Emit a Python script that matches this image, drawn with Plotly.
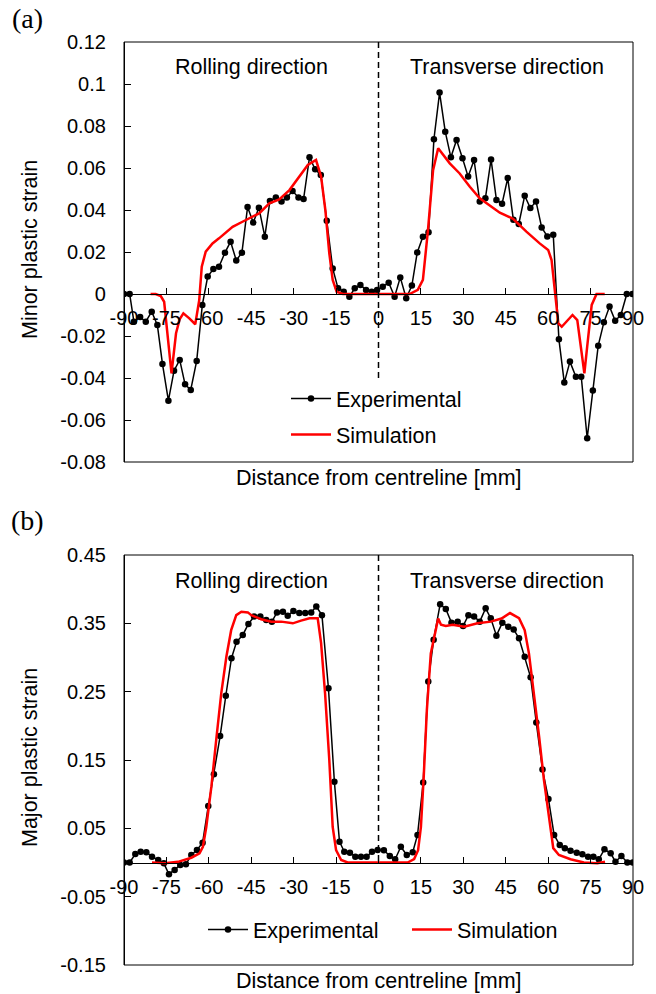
import plotly.graph_objects as go

# ---------------- data ----------------
minor_exp_x = [-90, -88, -86.5, -84.3, -82.3, -80.2, -78.2, -76.4, -74.3, -72.3,
               -70.3, -68.4, -66.4, -64.3, -62.3, -60.4, -58.4, -56.4, -54.3, -52.3,
               -50.3, -48.3, -46.3, -44.3, -42.3, -40.2, -38.4, -36.3, -34.3, -32.4,
               -30.4, -28.3, -26.5, -24.4, -22.4, -20.4, -18.3, -16.2, -14.3, -12.3,
               -10.3, -8.4, -6.4, -4.4, -2.4, -0.5, 1.5, 3.6, 5.7, 7.7,
               9.8, 11.8, 13.7, 15.7, 17.7, 19.6, 21.6, 23.6, 25.6, 27.6,
               29.7, 31.7, 33.8, 35.8, 37.8, 39.8, 41.7, 43.7, 45.7, 47.7,
               49.6, 51.7, 53.7, 55.7, 57.7, 59.7, 61.8, 63.8, 65.7, 67.7,
               69.8, 71.7, 73.8, 75.8, 77.7, 79.7, 81.7, 83.7, 85.7, 87.8,
               89.8]
minor_exp_y = [0, 0, -0.0132, -0.011, -0.0132, -0.0084, -0.0148, -0.0333, -0.0508, -0.0365,
               -0.0314, -0.043, -0.0457, -0.0319, -0.0052, 0.0083, 0.0119, 0.013, 0.0197, 0.0249,
               0.016, 0.0197, 0.0414, 0.034, 0.0411, 0.0273, 0.0443, 0.046, 0.044, 0.046,
               0.049, 0.046, 0.0452, 0.0651, 0.0594, 0.0567, 0.0349, 0.0122, 0.0027, 0.0011,
               -0.0013, 0.0027, 0.0043, 0.0019, 0.0011, 0.0019, 0.0035, 0.0054, -0.0013, 0.0079,
               -0.002, 0.004, 0.0198, 0.0273, 0.0294, 0.0737, 0.0959, 0.0773, 0.0651, 0.0733,
               0.0646, 0.0559, 0.0638, 0.044, 0.0456, 0.0641, 0.0448, 0.043, 0.0552, 0.0353,
               0.0333, 0.0468, 0.0409, 0.0441, 0.0317, 0.0274, 0.0282, -0.0216, -0.0422, -0.0322,
               -0.0394, -0.0394, -0.0687, -0.046, -0.0246, -0.0135, -0.006, -0.0127, -0.01, 0,
               0]

minor_sim_x = [-80.6, -78.8, -77.0, -75.8, -73.2, -71.6, -70.3, -69, -66.9, -64.8,
               -63.4, -62.5, -61.1, -58.7, -56.4, -54, -51.6, -48.1, -45.7, -42.2,
               -38.6, -35.1, -31.5, -28, -25, -22.1, -20.3, -18.8, -17.4, -16.2,
               -14.8, -12.6, 0, 11, 13.9, 15.7, 17.5, 19.3, 21.1, 22.9,
               25.2, 28.7, 32.3, 35.8, 39.3, 42.9, 47.6, 52.3, 57, 60,
               61.2, 62.4, 63.6, 64.8, 66.5, 68.6, 70.3, 71.8, 72.8, 73.8,
               75.4, 77.1, 80]
minor_sim_y = [0, 0, -0.001, -0.0037, -0.0378, -0.0187, -0.012, -0.0092, -0.0116, -0.0144,
               -0.0029, 0.013, 0.0202, 0.0241, 0.0265, 0.0294, 0.032, 0.0344, 0.036, 0.0384,
               0.0432, 0.045, 0.0495, 0.0559, 0.0614, 0.0638, 0.0559, 0.04, 0.0194, 0.0067,
               0.0011, 0, 0, 0, 0.002, 0.0067, 0.0305, 0.059, 0.0694, 0.0662,
               0.0622, 0.0574, 0.0511, 0.0456, 0.0424, 0.0387, 0.0358, 0.0297, 0.0241, 0.021,
               0.0162, 0.0019, -0.014, -0.0156, -0.0132, -0.01, -0.0124, -0.0267, -0.0378, -0.0251,
               -0.0052, 0, 0]

major_exp_x = [-90, -88, -86, -84.1, -82.1, -80.1, -77.9, -75.9, -74.1, -72.1,
               -70.1, -68.1, -66.2, -64.2, -62.2, -60.2, -58.2, -56, -54, -52,
               -50.2, -48, -46, -44, -41.8, -39.7, -37.7, -35.9, -33.8, -32.1,
               -30.1, -28, -25.9, -23.8, -22, -20, -17.7, -15.6, -13.8, -12.1,
               -10.1, -8.2, -6.2, -4.2, -2.3, -0.3, 1.9, 4, 5.9, 7.9,
               10, 12.1, 13.8, 15.8, 17.6, 19.5, 21.8, 23.8, 25.8, 28,
               29.9, 31.8, 33.8, 35.8, 37.9, 39.7, 41.7, 43.8, 45.9, 47.8,
               49.7, 51.7, 53.8, 55.8, 58, 60.1, 62.1, 64.1, 65.9, 67.9,
               70.1, 72.1, 74.1, 76, 77.9, 79.9, 82.1, 83.8, 85.9, 88,
               89.9]
major_exp_y = [0, 0, 0.0124, 0.0158, 0.0149, 0.0085, 0.0037, -0.0012, -0.0173, -0.011,
               -0.0037, -0.0026, 0.011, 0.0183, 0.029, 0.0827, 0.129, 0.185, 0.244, 0.299,
               0.323, 0.333, 0.349, 0.36, 0.36, 0.355, 0.3525, 0.366, 0.367, 0.361,
               0.368, 0.365, 0.365, 0.366, 0.3745, 0.362, 0.255, 0.118, 0.0305, 0.0158,
               0.0144, 0.0085, 0.0085, 0.0085, 0.0158, 0.0183, 0.018, 0.0095, 0.0047, 0.023,
               0.011, 0.0149, 0.0403, 0.117, 0.265, 0.326, 0.378, 0.371, 0.351, 0.3525,
               0.346, 0.362, 0.36, 0.3525, 0.372, 0.3575, 0.332, 0.351, 0.345, 0.341,
               0.328, 0.301, 0.271, 0.2047, 0.136, 0.093, 0.0403, 0.0256, 0.0208, 0.0173,
               0.0144, 0.012, 0.0085, 0.0085, 0.0047, 0.0193, 0.0134, 0.0012, 0.0095, 0,
               0]

major_sim_x = [-80.1, -75.6, -70.9, -66.2, -63.3, -62.1, -60.9, -59.1, -57.4, -55.6,
               -53.8, -52.1, -50.3, -48.5, -46.2, -45, -41.5, -37.9, -34.4, -30.3,
               -27.4, -24.4, -21.5, -20.3, -18.9, -17.4, -16.2, -15, -13.2, -10.9,
               10.3, 12.6, 14, 15, 16, 17.1, 18.5, 20.3, 21.1, 22.1,
               23.8, 26.2, 30.3, 35, 39.7, 43.5, 46.5, 49.7, 51.7, 53.2,
               55, 56.8, 58.5, 60.3, 61.8, 63.8, 67.9, 72.6, 77.4, 80.1]
major_sim_y = [0, -0.001, 0.001, 0.007, 0.0135, 0.023, 0.052, 0.111, 0.179, 0.248,
               0.301, 0.34, 0.362, 0.367, 0.366, 0.362, 0.356, 0.3525, 0.3525, 0.35,
               0.354, 0.3575, 0.3575, 0.321, 0.248, 0.15, 0.052, 0.018, 0.0037, 0,
               0, 0.005, 0.018, 0.052, 0.126, 0.223, 0.306, 0.345, 0.357, 0.348,
               0.346, 0.348, 0.345, 0.35, 0.3525, 0.357, 0.365, 0.3575, 0.34, 0.306,
               0.248, 0.184, 0.121, 0.062, 0.021, 0.011, 0.0047, 0, -0.001, 0.001]

x_ticks = [-90, -75, -60, -45, -30, -15, 0, 15, 30, 45, 60, 75, 90]
x_tick_text = ["-90", "-75", "-60", "-45", "-30", "-15", "0", "15", "30", "45", "60", "75", "90"]
minor_ticks = [-0.08, -0.06, -0.04, -0.02, 0, 0.02, 0.04, 0.06, 0.08, 0.1, 0.12]
minor_tick_text = ["-0.08", "-0.06", "-0.04", "-0.02", "0", "0.02", "0.04", "0.06", "0.08", "0.1", "0.12"]
major_ticks = [-0.15, -0.05, 0.05, 0.15, 0.25, 0.35, 0.45]
major_tick_text = ["-0.15", "-0.05", "0.05", "0.15", "0.25", "0.35", "0.45"]

series_names = ["Experimental", "Simulation"]
x_title = "Distance from centreline [mm]"
y_titles = ["Minor plastic strain", "Major plastic strain"]
region_labels = ["Rolling direction", "Transverse direction"]
panel_labels = ["(a)", "(b)"]

# ---------------- layout geometry ----------------
W, H = 656, 994
ML, MR, MT, MB = 124, 23, 42, 29
PW, PH = W - ML - MR, H - MT - MB

def py(pix):  # pixel row -> paper y
    return (H - MB - pix) / PH

def px(pix):  # pixel col -> paper x
    return (pix - ML) / PW

top_dom = [py(462), 1.0]
bot_dom = [0.0, py(555)]
top_range = [-0.08, 0.12]
bot_range = [-0.15, 0.45]
top_zero = top_dom[0] + (0 - top_range[0]) / (top_range[1] - top_range[0]) * (top_dom[1] - top_dom[0])
bot_zero = bot_dom[0] + (0 - bot_range[0]) / (bot_range[1] - bot_range[0]) * (bot_dom[1] - bot_dom[0])

FONT = "Liberation Sans, Arial, sans-serif"
BLACK = "#000000"
RED = "#ff0000"
TXT = 21.5

fig = go.Figure()

fig.add_trace(go.Scatter(x=minor_exp_x, y=minor_exp_y, name=series_names[0], mode="lines+markers",
                         line=dict(color=BLACK, width=1.5), marker=dict(color=BLACK, size=6.5),
                         xaxis="x", yaxis="y", legend="legend", legendgroup="a1"))
fig.add_trace(go.Scatter(x=minor_sim_x, y=minor_sim_y, name=series_names[1], mode="lines",
                         line=dict(color=RED, width=2.5),
                         xaxis="x", yaxis="y", legend="legend", legendgroup="a2"))
fig.add_trace(go.Scatter(x=major_exp_x, y=major_exp_y, name=series_names[0], mode="lines+markers",
                         line=dict(color=BLACK, width=1.5), marker=dict(color=BLACK, size=6.5),
                         xaxis="x2", yaxis="y2", legend="legend2"))
fig.add_trace(go.Scatter(x=major_sim_x, y=major_sim_y, name=series_names[1], mode="lines",
                         line=dict(color=RED, width=2.5),
                         xaxis="x2", yaxis="y2", legend="legend2"))

xcommon = dict(range=[-90, 90], tickvals=x_ticks, ticktext=x_tick_text, showgrid=False, zeroline=False,
               showline=True, linecolor=BLACK, linewidth=1, ticks="inside", ticklen=6, tickcolor=BLACK,
               tickfont=dict(family=FONT, size=20, color=BLACK), anchor="free", domain=[0, 1],
               ticklabelstandoff=6)
ycommon = dict(showgrid=False, zeroline=False, showline=True, linecolor=BLACK, linewidth=1.2,
               ticks="inside", ticklen=6, tickcolor=BLACK, anchor="free", position=0,
               tickfont=dict(family=FONT, size=20, color=BLACK), ticklabelstandoff=14)

fig.update_layout(
    width=W, height=H, margin=dict(l=ML, r=MR, t=MT, b=MB),
    paper_bgcolor="white", plot_bgcolor="white",
    font=dict(family=FONT, size=20, color=BLACK),
    xaxis=dict(**xcommon, position=top_zero),
    yaxis=dict(**ycommon, domain=top_dom, range=top_range, tickvals=minor_ticks, ticktext=minor_tick_text),
    xaxis2=dict(**xcommon, position=bot_zero),
    yaxis2=dict(**ycommon, domain=bot_dom, range=bot_range, tickvals=major_ticks, ticktext=major_tick_text),
    legend=dict(x=px(286), y=py(378), xanchor="left", yanchor="top", orientation="v",
                bgcolor="rgba(0,0,0,0)", font=dict(family=FONT, size=TXT, color=BLACK),
                tracegroupgap=5, itemwidth=40),
    legend2=dict(x=px(203), y=py(909), xanchor="left", yanchor="top", orientation="h",
                 bgcolor="rgba(0,0,0,0)", font=dict(family=FONT, size=TXT, color=BLACK),
                 entrywidth=149, itemwidth=40),
    showlegend=True,
)

shapes = []
for xr, yr in (("x domain", "y domain"), ("x2 domain", "y2 domain")):
    shapes.append(dict(type="rect", xref=xr, yref=yr, x0=0, x1=1, y0=0, y1=1,
                       line=dict(color=BLACK, width=1), fillcolor="rgba(0,0,0,0)", layer="above"))
shapes.append(dict(type="line", xref="x", yref="y", x0=0, x1=0, y0=0.12, y1=-0.041,
                   line=dict(color=BLACK, width=1.5, dash="6px,4px")))
shapes.append(dict(type="line", xref="x2", yref="y2", x0=0, x1=0, y0=0.45, y1=0,
                   line=dict(color=BLACK, width=1.5, dash="6px,4px")))
fig.update_layout(shapes=shapes)

ann = []
for xr, yr, yv in (("x", "y", 0.108), ("x2", "y2", 0.412)):
    ann.append(dict(x=-45, y=yv, xref=xr, yref=yr, text=region_labels[0], showarrow=False,
                    xanchor="center", yanchor="middle", font=dict(family=FONT, size=TXT, color=BLACK)))
    ann.append(dict(x=45.5, y=yv, xref=xr, yref=yr, text=region_labels[1], showarrow=False,
                    xanchor="center", yanchor="middle", font=dict(family=FONT, size=TXT, color=BLACK)))
ann.append(dict(x=px(379), y=py(478), xref="paper", yref="paper", text=x_title, showarrow=False,
                xanchor="center", yanchor="middle", font=dict(family=FONT, size=TXT, color=BLACK)))
ann.append(dict(x=px(379), y=py(994), xref="paper", yref="paper", text=x_title, showarrow=False,
                xanchor="center", yanchor="bottom", borderpad=0,
                font=dict(family=FONT, size=TXT, color=BLACK)))
for pix_y, t in ((250, y_titles[0]), (758, y_titles[1])):
    ann.append(dict(x=px(30), y=py(pix_y), xref="paper", yref="paper", text=t, showarrow=False,
                    xanchor="center", yanchor="middle", textangle=-90,
                    font=dict(family=FONT, size=TXT, color=BLACK)))
for pix_y, t in ((18, panel_labels[0]), (520, panel_labels[1])):
    ann.append(dict(x=px(27), y=py(pix_y), xref="paper", yref="paper", text=t, showarrow=False,
                    xanchor="center", yanchor="middle",
                    font=dict(family="Liberation Serif, Times New Roman, serif", size=28, color=BLACK)))
fig.update_layout(annotations=ann)

fig.write_html("out.html")
